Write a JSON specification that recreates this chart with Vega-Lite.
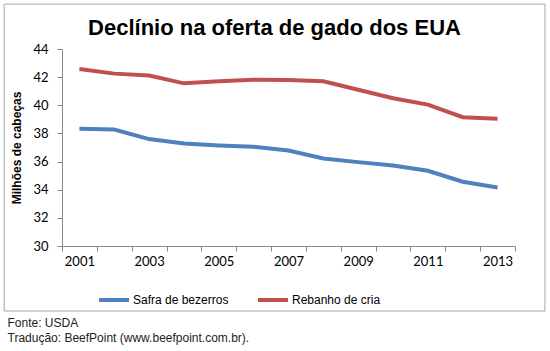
{
  "$schema": "https://vega.github.io/schema/vega-lite/v6.json",
  "width": 453,
  "height": 197,
  "autosize": {"type": "none"},
  "padding": {"left": 62, "top": 49, "right": 35, "bottom": 105},
  "background": "white",
  "title": {
    "text": "Declínio na oferta de gado dos EUA",
    "font": "Liberation Sans",
    "fontSize": 22,
    "fontWeight": "bold",
    "color": "#000000",
    "anchor": "middle",
    "frame": "group",
    "baseline": "alphabetic",
    "offset": -53,
    "dx": -14
  },
  "config": {
    "view": {"stroke": null},
    "axis": {"labelFont": "Lato", "labelFontSize": 13, "labelColor": "#000000", "labelOverlap": false}
  },
  "resolve": {"axis": {"x": "independent", "y": "independent"}},
  "data": {
    "values": [
      {"ano": 2001, "serie": "Safra de bezerros", "valor": 38.33},
      {"ano": 2002, "serie": "Safra de bezerros", "valor": 38.28},
      {"ano": 2003, "serie": "Safra de bezerros", "valor": 37.6},
      {"ano": 2004, "serie": "Safra de bezerros", "valor": 37.28},
      {"ano": 2005, "serie": "Safra de bezerros", "valor": 37.14},
      {"ano": 2006, "serie": "Safra de bezerros", "valor": 37.05},
      {"ano": 2007, "serie": "Safra de bezerros", "valor": 36.79},
      {"ano": 2008, "serie": "Safra de bezerros", "valor": 36.22},
      {"ano": 2009, "serie": "Safra de bezerros", "valor": 35.96},
      {"ano": 2010, "serie": "Safra de bezerros", "valor": 35.72},
      {"ano": 2011, "serie": "Safra de bezerros", "valor": 35.35},
      {"ano": 2012, "serie": "Safra de bezerros", "valor": 34.57},
      {"ano": 2013, "serie": "Safra de bezerros", "valor": 34.16},
      {"ano": 2001, "serie": "Rebanho de cria", "valor": 42.58},
      {"ano": 2002, "serie": "Rebanho de cria", "valor": 42.25},
      {"ano": 2003, "serie": "Rebanho de cria", "valor": 42.12},
      {"ano": 2004, "serie": "Rebanho de cria", "valor": 41.56},
      {"ano": 2005, "serie": "Rebanho de cria", "valor": 41.7},
      {"ano": 2006, "serie": "Rebanho de cria", "valor": 41.82},
      {"ano": 2007, "serie": "Rebanho de cria", "valor": 41.8},
      {"ano": 2008, "serie": "Rebanho de cria", "valor": 41.7},
      {"ano": 2009, "serie": "Rebanho de cria", "valor": 41.1},
      {"ano": 2010, "serie": "Rebanho de cria", "valor": 40.5},
      {"ano": 2011, "serie": "Rebanho de cria", "valor": 40.05},
      {"ano": 2012, "serie": "Rebanho de cria", "valor": 39.15},
      {"ano": 2013, "serie": "Rebanho de cria", "valor": 39.05}
    ]
  },
  "layer": [
    {
      "data": {"values": [{}]},
      "mark": {"type": "rect", "fill": null, "stroke": "#a6a6a6", "strokeWidth": 1, "clip": false},
      "encoding": {
        "x": {"datum": 1998.84, "type": "quantitative", "axis": null},
        "x2": {"datum": 2014.36},
        "y": {"datum": 47.19, "type": "quantitative", "axis": null},
        "y2": {"datum": 25.38}
      }
    },
    {
      "mark": {"type": "line", "strokeWidth": 4, "clip": false},
      "encoding": {
        "x": {
          "field": "ano",
          "type": "quantitative",
          "scale": {"domain": [2000.5, 2013.5], "nice": false, "zero": false},
          "axis": {
            "values": [2000.5, 2001.5, 2002.5, 2003.5, 2004.5, 2005.5, 2006.5, 2007.5, 2008.5, 2009.5, 2010.5, 2011.5, 2012.5, 2013.5],
            "labelExpr": "(datum.value + 0.5) % 2 == 1 && datum.value < 2013 ? format(datum.value + 0.5, 'd') : ''",
            "labelOffset": 17.4,
            "labelOverlap": false,
            "labelFlush": false,
            "labelBound": false,
            "labelPadding": 4,
            "tickSize": 5,
            "tickColor": "#888888",
            "domainColor": "#888888",
            "grid": false,
            "title": ["Fonte: USDA", "Tradução: BeefPoint (www.beefpoint.com.br)."],
            "titleFont": "Liberation Sans",
            "titleFontSize": 12,
            "titleFontWeight": "normal",
            "titleColor": "#222222",
            "titleAlign": "left",
            "titleAnchor": "start",
            "titleBaseline": "alphabetic",
            "titleLineHeight": 15,
            "titleX": -55,
            "titleY": 80
          }
        },
        "y": {
          "field": "valor",
          "type": "quantitative",
          "scale": {"domain": [30, 44], "nice": false, "zero": false},
          "axis": {
            "values": [30, 32, 34, 36, 38, 40, 42, 44],
            "labelOverlap": false,
            "title": "Milhões de cabeças",
            "titleFont": "Liberation Sans",
            "titleFontSize": 12,
            "titleFontWeight": "bold",
            "titleColor": "#000000",
            "titlePadding": 9,
            "labelPadding": 9,
            "tickSize": 5,
            "tickColor": "#888888",
            "domainColor": "#888888",
            "gridColor": "#a0a0a0",
            "gridWidth": 1
          }
        },
        "color": {
          "field": "serie",
          "type": "nominal",
          "scale": {"domain": ["Safra de bezerros", "Rebanho de cria"], "range": ["#4F81BD", "#C0504D"]},
          "legend": {
            "title": null,
            "orient": "none",
            "direction": "horizontal",
            "legendX": 35,
            "legendY": 234,
            "symbolType": "stroke",
            "symbolSize": 900,
            "symbolStrokeWidth": 4,
            "labelFont": "Liberation Sans",
            "labelFontSize": 12,
            "labelColor": "#000000",
            "labelOffset": 2,
            "columnPadding": 21
          }
        }
      }
    }
  ]
}
